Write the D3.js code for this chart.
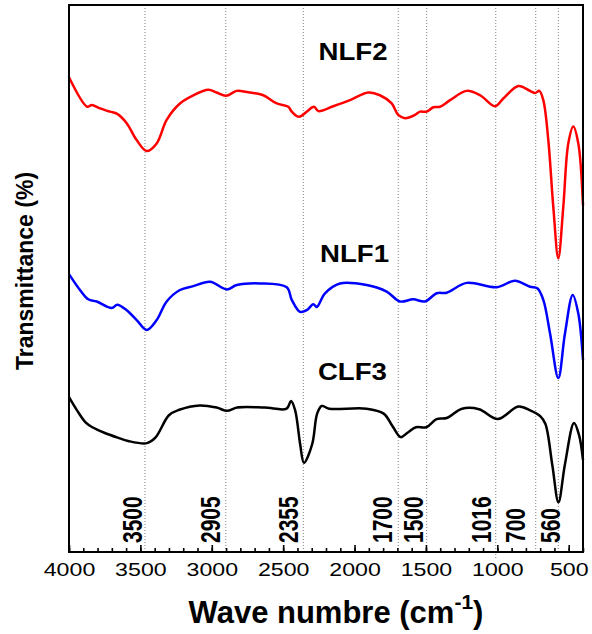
<!DOCTYPE html>
<html>
<head>
<meta charset="utf-8">
<script src="https://cdn.jsdelivr.net/npm/d3@7"></script>
<style>
  html, body { margin: 0; padding: 0; background: #fff; }
  svg { display: block; font-family: "Liberation Sans", Arial, sans-serif; }
</style>
</head>
<body>
<svg id="chart" width="592" height="634"></svg>
<script>
// ---------- DATA ----------
const wavenumbers_NLF2 = [4000,3872,3841,3783,3713,3662,3596,3526,3456,3386,3316,3223,3129,3024,2966,2900,2825,2755,2639,2545,2464,2440,2405,2382,2335,2284,2254,2149,2032,1904,1822,1740,1694,1647,1577,1542,1495,1448,1402,1331,1215,1121,1016,958,853,771,736,706,678,643,608,573,538,503,468,433,400];
const transmittance_NLF2 = [86.8,81.4,81.7,81.1,80.5,80.1,78.4,75.3,73.3,74.7,79.0,82.0,83.5,84.5,84.0,83.4,84.3,84.1,83.5,82.0,81.4,80.5,79.7,79.6,80.5,81.4,80.6,81.5,82.6,84.0,83.5,82.0,79.9,79.3,79.9,80.5,80.5,81.3,81.4,82.6,84.3,83.5,81.5,82.9,85.2,84.3,83.9,84.3,82.6,75.3,63.1,53.7,63.1,74.7,77.8,74.7,63.4];

const wavenumbers_NLF1 = [4000,3923,3865,3806,3701,3662,3596,3526,3456,3386,3316,3223,3129,3012,2895,2825,2662,2475,2440,2382,2335,2289,2265,2207,2102,1915,1775,1682,1589,1507,1425,1355,1215,1004,876,771,720,678,631,573,526,472,433,400];
const transmittance_NLF1 = [50.8,47.9,46.2,45.8,44.6,45.2,44.2,42.4,40.6,42.4,45.8,47.9,48.6,49.4,48.0,48.8,49.1,48.4,46.1,43.9,44.2,45.3,44.8,47.3,49.1,48.8,47.6,45.8,46.2,45.8,47.3,47.4,49.2,48.4,49.6,48.5,48.2,46.1,40.0,31.8,40.0,47.0,43.6,35.1];

const wavenumbers_CLF3 = [4000,3944,3884,3836,3753,3658,3586,3454,3395,3300,3228,3085,2966,2893,2822,2631,2476,2445,2416,2381,2354,2297,2262,2230,2178,1916,1796,1736,1677,1629,1570,1497,1426,1355,1247,1128,997,853,770,698,663,615,572,526,463,428,400];
const transmittance_CLF3 = [28.3,25.9,23.7,22.8,21.8,20.9,20.3,19.9,20.9,25.0,26.0,26.8,26.4,25.8,26.4,26.4,26.2,27.6,25.9,19.7,16.3,19.7,25.3,26.7,26.2,26.2,25.3,23.1,21.0,21.8,22.8,22.8,24.3,24.5,26.2,26.1,24.3,26.6,25.9,24.8,23.4,15.9,9.1,16.1,23.6,21.4,16.8];

const seriesNames  = ["NLF2", "NLF1", "CLF3"];
const seriesColors = ["#ff0000", "#0000ff", "#000000"];
const nameLabelAt  = [[2011, 89.9], [2000, 53.1], [2015, 31.4]]; // [wavenumber, transmittance] of each sample label

const peakLabels    = ["3500", "2905", "2355", "1700", "1500", "1016", "700", "560"];
const peakLines     = [3468, 2902, 2359, 1694, 1495, 1011, 731, 573];
const peakLabelAt   = [3491, 2942, 2396, 1740, 1519, 1046, 806, 561];

const xTickMajor = [4000, 3500, 3000, 2500, 2000, 1500, 1000, 500];
const xTickMinor = d3.range(400, 4001, 100);

// ---------- LAYOUT ----------
const m = { left: 69, right: 583, top: 5, bottom: 552 };

const svg = d3.select("#chart");
const x = d3.scaleLinear().domain([4000, 400]).range([m.left, m.right]);
const y = d3.scaleLinear().domain([0, 100]).range([m.bottom, m.top]);

// dotted reference lines
svg.append("g").selectAll("line").data(peakLines).join("line")
  .attr("x1", d => x(d)).attr("x2", d => x(d))
  .attr("y1", m.top).attr("y2", (d, i) => peakLabels[i] === "1016" ? m.bottom + 6 : m.bottom)
  .attr("stroke", "#808080").attr("stroke-width", 1).attr("stroke-dasharray", "1,2");

// curves
const line = d3.line().x(d => x(d[0])).y(d => y(d[1])).curve(d3.curveCatmullRom.alpha(0.5));
const allSeries = [
  d3.zip(wavenumbers_NLF2, transmittance_NLF2),
  d3.zip(wavenumbers_NLF1, transmittance_NLF1),
  d3.zip(wavenumbers_CLF3, transmittance_CLF3)
];
svg.append("g").selectAll("path").data(allSeries).join("path")
  .attr("d", line)
  .attr("fill", "none")
  .attr("stroke", (d, i) => seriesColors[i])
  .attr("stroke-width", 2.5)
  .attr("stroke-linejoin", "round");

// sample labels
svg.append("g").selectAll("text").data(seriesNames).join("text")
  .attr("transform", (d, i) => `translate(${x(nameLabelAt[i][0])},${y(nameLabelAt[i][1])}) scale(1.2,1)`)
  .attr("text-anchor", "middle")
  .attr("font-size", 23).attr("font-weight", "bold").attr("fill", "#000")
  .text(d => d);

// peak labels (rotated)
svg.append("g").selectAll("text").data(peakLabels).join("text")
  .attr("transform", (d, i) => `translate(${x(peakLabelAt[i])},${m.bottom - 9}) scale(1.35,1) rotate(-90)`)
  .attr("text-anchor", "start")
  .attr("font-size", 21).attr("font-weight", "bold").attr("fill", "#000")
  .text(d => d);

// x axis: minor ticks
const gMinor = svg.append("g").attr("transform", `translate(0,${m.bottom})`)
  .call(d3.axisBottom(x).tickValues(xTickMinor).tickSizeInner(-4).tickSizeOuter(0).tickFormat(""));
gMinor.select(".domain").remove();
gMinor.selectAll("line").attr("stroke", "#000").attr("stroke-width", 1.6);

// x axis: major ticks + labels
const gMajor = svg.append("g").attr("transform", `translate(0,${m.bottom})`)
  .call(d3.axisBottom(x).tickValues(xTickMajor).tickSizeInner(-7).tickSizeOuter(0).tickPadding(11).tickFormat(d3.format("d")));
gMajor.select(".domain").remove();
gMajor.selectAll("line").attr("stroke", "#000").attr("stroke-width", 1.6);
gMajor.selectAll("text")
  .attr("font-size", 19).attr("font-family", "'Liberation Sans', Arial, sans-serif")
  .attr("fill", "#000").attr("transform", "scale(1.22,1)");

// frame
svg.append("rect")
  .attr("x", m.left).attr("y", m.top)
  .attr("width", m.right - m.left).attr("height", m.bottom - m.top)
  .attr("fill", "none").attr("stroke", "#000").attr("stroke-width", 2);

// axis titles
const xt = svg.append("text")
  .attr("x", (m.left + m.right) / 2 + 10).attr("y", 623)
  .attr("text-anchor", "middle")
  .attr("font-size", 31).attr("font-weight", "bold").attr("fill", "#000");
xt.append("tspan").text("Wave numbre (cm");
xt.append("tspan").attr("font-size", 21).attr("dy", -14).text("-1");
xt.append("tspan").attr("dy", 14).text(")");

svg.append("text")
  .attr("transform", `translate(33,${271}) rotate(-90)`)
  .attr("text-anchor", "middle")
  .attr("font-size", 23).attr("font-weight", "bold").attr("fill", "#000")
  .text("Transmittance (%)");
</script>
</body>
</html>
